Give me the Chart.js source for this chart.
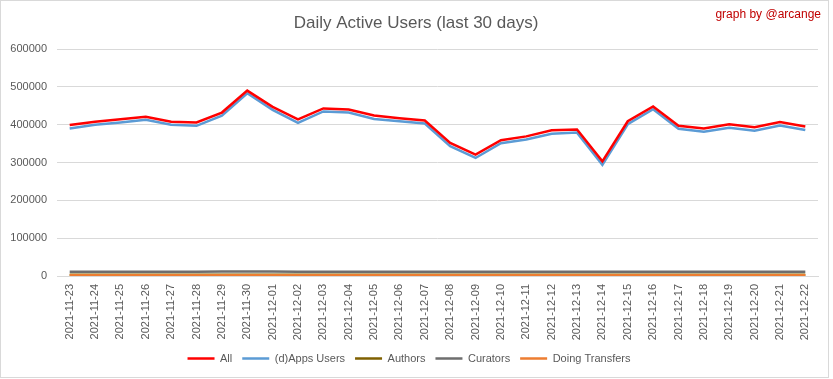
<!DOCTYPE html>
<html>
<head>
<meta charset="utf-8">
<script src="https://cdn.jsdelivr.net/npm/chart.js@4"></script>
<style>
html,body{margin:0;padding:0;background:#fff;}
#wrap{position:relative;width:833px;height:379px;}
canvas{display:block;}
</style>
</head>
<body>
<div id="wrap"><canvas id="c" width="833" height="379"></canvas></div>
<script>
const categories = ["2021-11-23","2021-11-24","2021-11-25","2021-11-26","2021-11-27","2021-11-28","2021-11-29","2021-11-30","2021-12-01","2021-12-02","2021-12-03","2021-12-04","2021-12-05","2021-12-06","2021-12-07","2021-12-08","2021-12-09","2021-12-10","2021-12-11","2021-12-12","2021-12-13","2021-12-14","2021-12-15","2021-12-16","2021-12-17","2021-12-18","2021-12-19","2021-12-20","2021-12-21","2021-12-22"];
const allUsers = [399000,408000,414000,421000,408000,406000,432000,490000,447000,414000,443000,440000,424000,417000,411000,352000,321000,359000,369000,385000,387000,303000,409000,448000,397000,390000,401000,393000,407000,395000];
const appsUsers = [390000,400000,406000,413000,400000,397000,424000,483000,439000,405000,435000,432000,415000,409000,403000,343000,312000,351000,361000,376000,379000,294000,401000,441000,389000,381000,392000,384000,398000,386000];
const authors = [3000,3000,3000,3000,3000,3000,3000,3000,3000,3000,3000,3000,3000,3000,3000,3000,3000,3000,3000,3000,3000,3000,3000,3000,3000,3000,3000,3000,3000,3000];
const curators = [11500,11500,11500,11500,11500,11500,11800,11600,11800,11500,11500,11500,11500,11500,11500,11500,11500,11500,11500,11500,11500,11500,11500,11500,11500,11500,11500,11500,11500,11500];
const transfers = [2000,2000,2000,2000,2000,2000,2000,2000,2000,2000,2000,2000,2000,2000,2000,2000,2000,2000,2000,2000,2000,2000,2000,2000,2000,2000,2000,2000,2000,2000];
const yTicks = [0,100000,200000,300000,400000,500000,600000];

const FONT = "'Liberation Sans', Arial, sans-serif";
const TXT = '#595959';

const decor = {
  id: 'decor',
  afterDraw(chart) {
    const ctx = chart.ctx;
    ctx.save();
    ctx.fillStyle = TXT;
    ctx.font = "17px " + FONT;
    ctx.textAlign = 'center';
    ctx.textBaseline = 'middle';
    ctx.fillText('Daily Active Users (last 30 days)', 416, 23);
    ctx.fillStyle = '#c00000';
    ctx.font = "12px " + FONT;
    ctx.textAlign = 'right';
    ctx.fillText('graph by @arcange', 821, 15);
    ctx.strokeStyle = '#d9d9d9';
    ctx.lineWidth = 1;
    ctx.strokeRect(0.5, 0.5, 828, 377);
    ctx.restore();
  }
};

function ds(label, data, color, w, order) {
  return {label, data, borderColor: color, backgroundColor: color, borderWidth: w, order,
    pointRadius: 0, pointHoverRadius: 0, tension: 0, fill: false};
}

new Chart(document.getElementById('c'), {
  type: 'line',
  data: {
    labels: categories,
    datasets: [
      ds('All', allUsers, '#ff0000', 2.5, 0),
      ds('(d)Apps Users', appsUsers, '#5b9bd5', 2.5, 1),
      ds('Authors', authors, '#7f6000', 2.5, 4),
      ds('Curators', curators, '#6e6e6e', 2.5, 3),
      ds('Doing Transfers', transfers, '#ed7d31', 2.5, 2)
    ]
  },
  options: {
    responsive: false,
    animation: false,
    devicePixelRatio: 1,
    layout: {padding: {top: 49, right: 15, bottom: 5, left: 0}},
    plugins: {
      title: {display: false},
      tooltip: {enabled: false},
      legend: {
        position: 'bottom',
        labels: {
          usePointStyle: true, pointStyle: 'line', pointStyleWidth: 27,
          color: TXT, font: {family: FONT, size: 11}, padding: 10,
          sort: (a, b) => a.datasetIndex - b.datasetIndex
        }
      }
    },
    scales: {
      x: {
        offset: true,
        afterFit(scale) { scale.height = 67; },
        grid: {display: false, drawTicks: false},
        border: {display: true, color: '#d9d9d9'},
        ticks: {color: TXT, font: {family: FONT, size: 11}, maxRotation: 90, minRotation: 90, padding: 8, autoSkip: false}
      },
      y: {
        min: 0, max: 600000,
        afterBuildTicks(scale) { scale.ticks = yTicks.map(v => ({value: v})); },
        afterFit(scale) { scale.width = 57; },
        grid: {color: '#d9d9d9', drawTicks: false},
        border: {display: false},
        ticks: {color: TXT, font: {family: FONT, size: 11}, padding: 10, callback: v => String(v)}
      }
    }
  },
  plugins: [decor]
});
</script>
</body>
</html>
